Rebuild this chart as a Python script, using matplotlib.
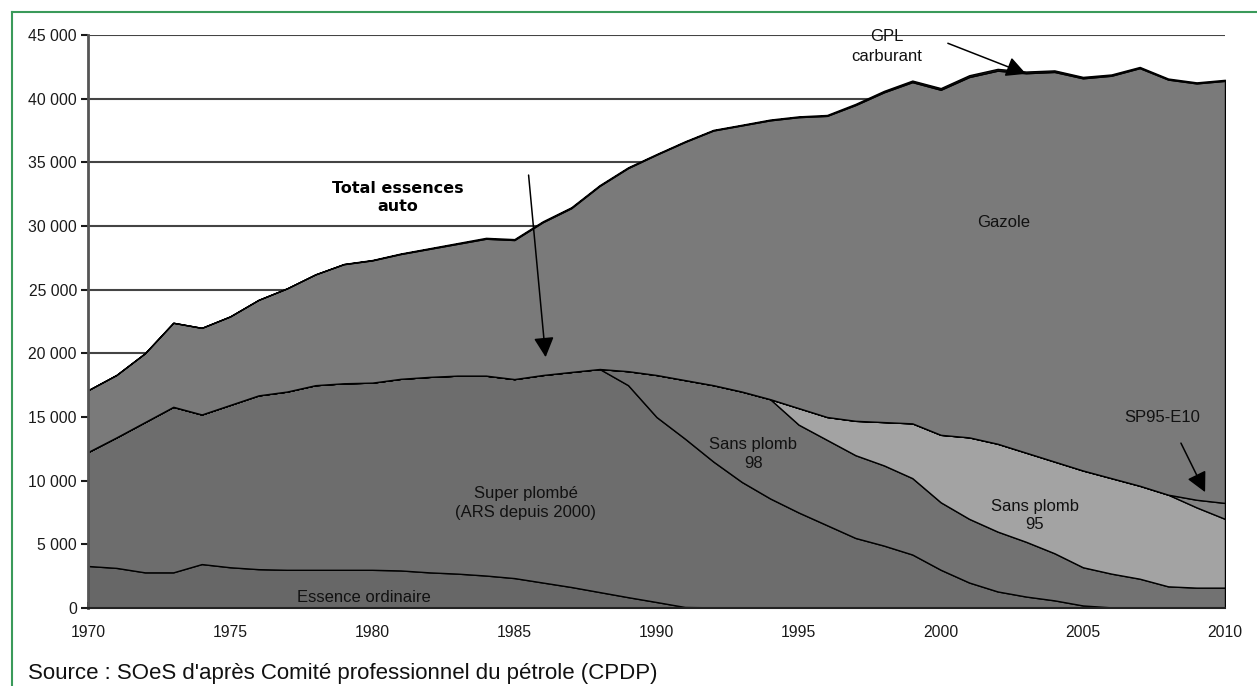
import matplotlib
matplotlib.use("Agg")
import matplotlib.pyplot as plt
from matplotlib.ticker import FuncFormatter, MultipleLocator
from matplotlib.lines import Line2D

plt.rcParams['font.family'] = ['Liberation Sans', 'DejaVu Sans']

# consommation de carburants routiers (milliers de tonnes)
years = list(range(1970, 2011))

essence_ordinaire = [3300, 3150, 2800, 2800, 3450, 3200, 3050, 3000, 3000, 3000,
                     3000, 2950, 2800, 2700, 2550, 2350, 2000, 1650, 1250, 850,
                     470, 80, 50, 20, 0, 0, 0, 0, 0, 0,
                     0, 0, 0, 0, 0, 0, 0, 0, 0, 0, 0]
super_plombe = [8950, 10250, 11800, 13000, 11750, 12750, 13650, 14000, 14500, 14650,
                14700, 15050, 15350, 15550, 15700, 15630, 16300, 16890, 17520, 16650,
                14530, 13220, 11450, 9880, 8600, 7500, 6500, 5500, 4900, 4200,
                3000, 2000, 1300, 900, 600, 200, 50, 0, 0, 0, 0]
sans_plomb_98 = [0, 0, 0, 0, 0, 0, 0, 0, 0, 0,
                 0, 0, 0, 0, 0, 0, 0, 0, 0, 1100,
                 3300, 4600, 6000, 7100, 7800, 6900, 6700, 6500, 6300, 6000,
                 5300, 5000, 4700, 4300, 3700, 3000, 2650, 2300, 1700, 1600, 1600]
sans_plomb_95 = [0, 0, 0, 0, 0, 0, 0, 0, 0, 0,
                 0, 0, 0, 0, 0, 0, 0, 0, 0, 0,
                 0, 0, 0, 0, 0, 1300, 1800, 2700, 3400, 4300,
                 5300, 6400, 6900, 7000, 7200, 7600, 7500, 7300, 7200, 6300, 5400]
sp95_e10 = [0] * 39 + [600, 1250]
gazole = [4850, 4900, 5400, 6600, 6800, 6950, 7500, 8100, 8700, 9350,
          9600, 9800, 10050, 10350, 10750, 10920, 12000, 12860, 14380, 15950,
          17300, 18700, 20000, 20900, 21900, 22850, 23650, 24800, 25900, 26800,
          27100, 28300, 29300, 29800, 30600, 30800, 31600, 32800, 32600, 32700, 33150]
gpl = [0, 0, 0, 0, 0, 0, 0, 0, 0, 20,
       30, 40, 50, 60, 70, 70, 70, 70, 60, 60,
       50, 50, 50, 50, 60, 60, 70, 90, 110, 120,
       130, 140, 140, 130, 120, 110, 100, 90, 80, 80, 80]

colors = ['#676767', '#6d6d6d', '#727272', '#a3a3a3', '#858585', '#7a7a7a', '#222222']

fig = plt.figure(figsize=(12.57, 6.86), dpi=100)
ax = fig.add_axes([88/1257, 1-608/686, (1225-88)/1257, (608-35)/686])

ax.stackplot(years, essence_ordinaire, super_plombe, sans_plomb_98, sans_plomb_95,
             sp95_e10, gazole, gpl, colors=colors, edgecolor='black', linewidth=1.0,
             zorder=2)

ax.set_xlim(1970, 2010)
ax.set_ylim(0, 45000)
ax.yaxis.set_major_locator(MultipleLocator(5000))
ax.yaxis.set_major_formatter(FuncFormatter(lambda v, p: f"{v:,.0f}".replace(",", " ")))
ax.xaxis.set_major_locator(MultipleLocator(5))
ax.xaxis.set_minor_locator(MultipleLocator(1))
ax.tick_params(axis='x', which='both', direction='in', length=4, width=1.2,
               labelsize=11.3, pad=12, colors='#1a1a1a')
ax.tick_params(axis='y', direction='out', length=5, width=1.5, labelsize=11.3,
               pad=3, colors='#1a1a1a')

ax.yaxis.grid(True, color='#444444', linewidth=1.5)
ax.set_axisbelow(True)
for side in ['top', 'right']:
    ax.spines[side].set_visible(False)
ax.spines['left'].set_color('#555555')
ax.spines['left'].set_linewidth(2)
ax.spines['bottom'].set_color('#222222')
ax.spines['bottom'].set_linewidth(1.5)
ax.spines['left'].set_zorder(3)
ax.spines['bottom'].set_zorder(3)

# labels des zones
lab = dict(ha='center', va='center', fontsize=12, color='#111111', linespacing=1.3)
ax.text(2002.2, 30300, "Gazole", **lab)
ax.text(1993.4, 12100, "Sans plomb\n98", **lab)
ax.text(1985.4, 8250, "Super plombé\n(ARS depuis 2000)", **lab)
ax.text(2003.3, 7250, "Sans plomb\n95", **lab)
ax.text(1979.7, 800, "Essence ordinaire", **lab)
ax.text(2007.8, 15000, "SP95-E10", **lab)
ax.text(1998.1, 44100, "GPL\ncarburant", ha='center', va='center', fontsize=12,
        color='#111111', linespacing=1.45)
ax.text(1980.9, 32200, "Total essences\nauto", ha='center', va='center', fontsize=11.5,
        fontweight='bold', family='DejaVu Sans', linespacing=1.25)

arrow = dict(arrowstyle='-|>,head_length=0.55,head_width=0.28', color='black', lw=1.1,
             mutation_scale=22, shrinkA=0, shrinkB=0)
ax.annotate("", xy=(1986.1, 19700), xytext=(1985.5, 34000), arrowprops=arrow, zorder=5)
ax.annotate("", xy=(2003.0, 41950), xytext=(2000.25, 44350), arrowprops=arrow, zorder=5)
ax.annotate("", xy=(2009.3, 9100), xytext=(2008.45, 12950), arrowprops=arrow, zorder=5)

fig.text(28/1257, 1-674/686, "Source : SOeS d'après Comité professionnel du pétrole (CPDP)",
         fontsize=16, ha='left', va='center', color='#111111')

# cadre vert
fig.add_artist(Line2D([12/1257, 12/1257], [0, 1-12/686], color='#3a9a5a', lw=1.5))
fig.add_artist(Line2D([12/1257, 1], [1-12/686, 1-12/686], color='#3a9a5a', lw=1.5))

fig.savefig("out.png", dpi=100)
